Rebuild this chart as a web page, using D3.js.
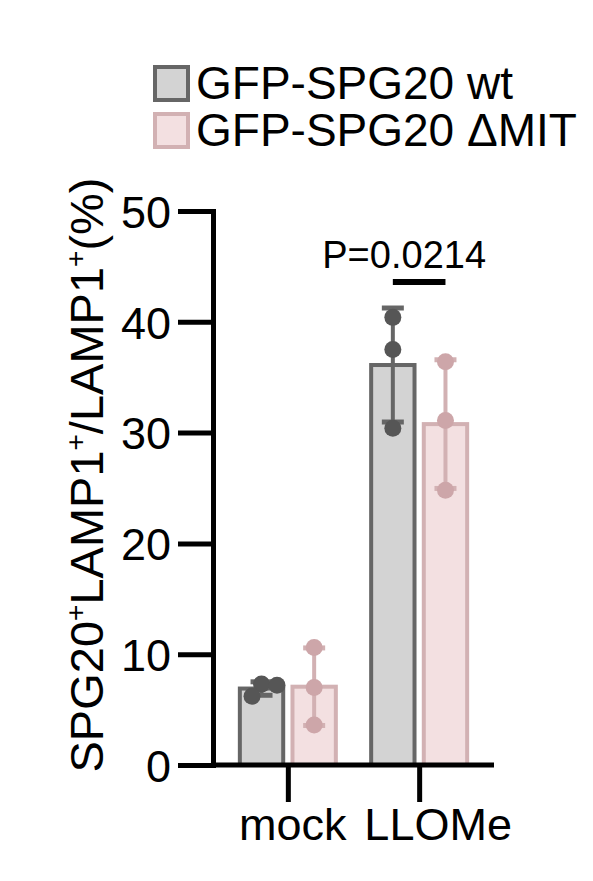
<!DOCTYPE html>
<html>
<head>
<meta charset="utf-8">
<script src="https://cdn.jsdelivr.net/npm/d3@7"></script>
<style>
  html, body { margin: 0; padding: 0; background: #ffffff; }
  svg { display: block; }
  text { font-family: "Liberation Sans", Arial, Helvetica, sans-serif; fill: #000; }
</style>
</head>
<body>
<svg id="chart" width="593" height="881"></svg>
<script>
// ---- data ----
const categories = ["mock", "LLOMe"];
const seriesNames = ["GFP-SPG20 wt", "GFP-SPG20 \u0394MIT"];
const wtValues = [[7.3, 7.2, 6.2], [40.4, 37.5, 30.4]];
const dmitValues = [[10.6, 7.0, 3.6], [36.4, 31.1, 24.8]];
const yTicks = [0, 10, 20, 30, 40, 50];
const pValueLabel = "P=0.0214";

// ---- style ----
const fills = ["#d3d3d3", "#f3e0e1"];
const strokes = ["#666666", "#d2b1b3"];
const dotColors = ["#565656", "#cda6a9"];

const svg = d3.select("#chart");
const W = 593, H = 881;
svg.append("rect").attr("width", W).attr("height", H).attr("fill", "#fff");

const axisX = 213, axisY = 765, axisTop = 211, axisRight = 494;
const y = d3.scaleLinear().domain([0, 50]).range([axisY, axisTop]);
const x = d3.scalePoint().domain(categories).range([axisX, axisRight]).padding(0.57);
const sub = d3.scaleBand().domain(seriesNames).range([-50, 50]).paddingInner(0.1);
const barW = sub.bandwidth() - 4;

const allSeries = [wtValues, dmitValues];
const mean = a => d3.mean(a);
const sd = a => d3.deviation(a);

const g = svg.append("g");

// bars
allSeries.forEach((vals, si) => {
  categories.forEach((c, ci) => {
    const cx = x(c) + sub(seriesNames[si]) + sub.bandwidth() / 2;
    const m = mean(vals[ci]);
    g.append("rect")
      .attr("x", cx - barW / 2)
      .attr("y", y(m))
      .attr("width", barW)
      .attr("height", y(0) - y(m))
      .attr("fill", fills[si])
      .attr("stroke", strokes[si])
      .attr("stroke-width", 4);
  });
});

// error bars (mean ± SD)
allSeries.forEach((vals, si) => {
  categories.forEach((c, ci) => {
    const cx = x(c) + sub(seriesNames[si]) + sub.bandwidth() / 2;
    const m = mean(vals[ci]), s = sd(vals[ci]);
    const eg = g.append("g").attr("stroke", strokes[si]).attr("stroke-width", 4);
    eg.append("line").attr("x1", cx).attr("x2", cx).attr("y1", y(m - s)).attr("y2", y(m + s));
    [m - s, m + s].forEach(v => {
      eg.append("line").attr("x1", cx - 11).attr("x2", cx + 11).attr("y1", y(v)).attr("y2", y(v))
        .attr("stroke-width", 5);
    });
  });
});

// dots with simple beeswarm spreading
const r = 8.5;
allSeries.forEach((vals, si) => {
  categories.forEach((c, ci) => {
    const cx = x(c) + sub(seriesNames[si]) + sub.bandwidth() / 2;
    const placed = [];
    vals[ci].forEach(v => {
      const py = y(v);
      let dx = 0;
      for (let k = 0; k < 400; k++) {
        const cand = (k % 2 === 1 ? 1 : -1) * Math.ceil(k / 2) * 0.5;
        const ok = placed.every(p => Math.hypot(p.dx - cand, p.y - py) >= 1.8 * r);
        if (ok) { dx = cand; break; }
      }
      placed.push({ dx: dx, y: py });
    });
    placed.forEach(p => {
      g.append("circle").attr("cx", cx + p.dx).attr("cy", p.y).attr("r", r).attr("fill", dotColors[si]);
    });
  });
});

// y axis
const yAxis = d3.axisLeft(y).tickValues(yTicks).tickSize(35).tickSizeOuter(0).tickPadding(7);
const ya = svg.append("g").attr("transform", `translate(${axisX},0)`).call(yAxis);
ya.select(".domain").attr("stroke", "#000").attr("stroke-width", 5).attr("stroke-linecap", "square");
ya.selectAll(".tick line").attr("stroke", "#000").attr("stroke-width", 5);
ya.selectAll(".tick text").style("font-size", "45px").attr("fill", "#000")
  .style("font-family", "'Liberation Sans', Arial, sans-serif").attr("dy", "0.36em");

// x axis
svg.append("line").attr("x1", axisX).attr("x2", axisRight).attr("y1", axisY).attr("y2", axisY)
  .attr("stroke", "#000").attr("stroke-width", 5);
const xAxis = d3.axisBottom(x).tickSize(37).tickSizeOuter(0).tickPadding(0).tickFormat(() => "");
const xa = svg.append("g").attr("transform", `translate(0,${axisY})`).call(xAxis);
xa.select(".domain").remove();
xa.selectAll(".tick line").attr("stroke", "#000").attr("stroke-width", 5);
const labelShift = [5, 19];
categories.forEach((c, i) => {
  svg.append("text").attr("x", x(c) + labelShift[i]).attr("y", 840)
    .attr("text-anchor", "middle").style("font-size", "45px").text(c);
});

// y label
const yl = svg.append("text")
  .attr("transform", "translate(103,475) rotate(-90)")
  .attr("text-anchor", "middle")
  .style("font-size", "47px");
yl.append("tspan").text("SPG20");
yl.append("tspan").attr("dy", -18).style("font-size", "28px").text("+");
yl.append("tspan").attr("dy", 18).text("LAMP1");
yl.append("tspan").attr("dy", -18).style("font-size", "28px").text("+");
yl.append("tspan").attr("dy", 18).text("/LAMP1");
yl.append("tspan").attr("dy", -18).style("font-size", "28px").text("+");
yl.append("tspan").attr("dy", 18).text("(%)");

// legend
seriesNames.forEach((s, i) => {
  const ly = 67 + i * 47;
  svg.append("rect").attr("x", 155).attr("y", ly).attr("width", 33).attr("height", 33)
    .attr("fill", fills[i]).attr("stroke", strokes[i]).attr("stroke-width", 4);
  svg.append("text").attr("x", 196).attr("y", ly + 32).style("font-size", "46px").text(s);
});

// significance
const sigX1 = x("LLOMe") + sub(seriesNames[0]) + sub.bandwidth() / 2;
const sigX2 = x("LLOMe") + sub(seriesNames[1]) + sub.bandwidth() / 2;
svg.append("line").attr("x1", sigX1).attr("x2", sigX2).attr("y1", 282).attr("y2", 282)
  .attr("stroke", "#000").attr("stroke-width", 6);
svg.append("text").attr("x", (sigX1 + sigX2) / 2 - 15).attr("y", 268)
  .attr("text-anchor", "middle").style("font-size", "38px").text(pValueLabel);
</script>
</body>
</html>
